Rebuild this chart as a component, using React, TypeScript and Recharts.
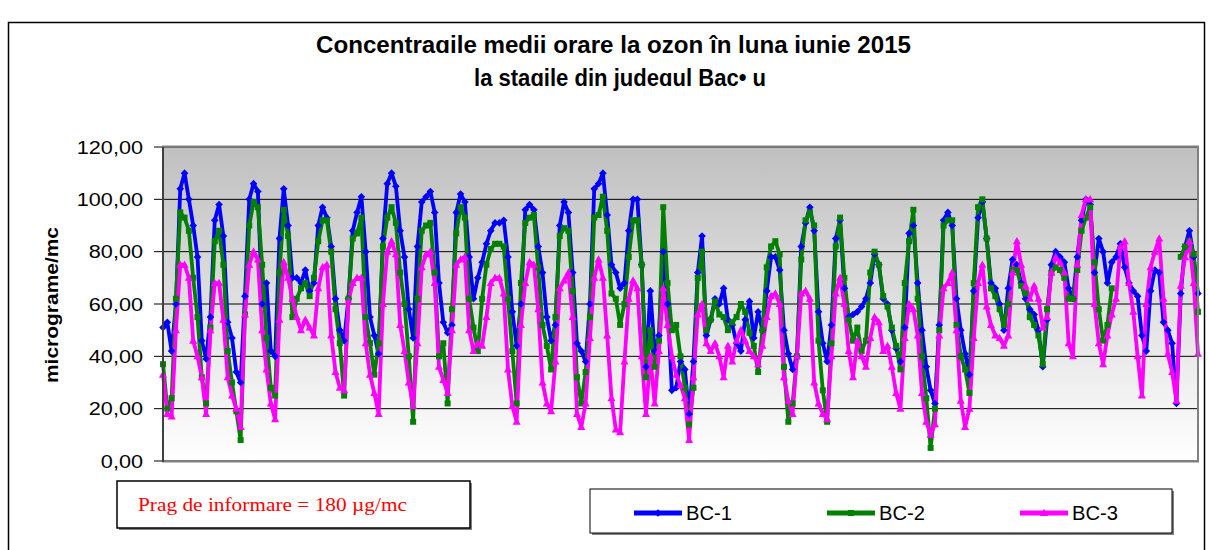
import { LineChart, Line, XAxis, YAxis, CartesianGrid } from 'recharts';

// hourly ozone, sampled every 3 hours (June 2015)
const STEP_HOURS = 3;

const BC1 = [
  51, 53, 42, 60, 104, 110, 100, 90, 78, 46, 39, 55, 92, 98, 86, 53, 47, 34, 30, 63,
  100, 106, 103, 60, 68, 42, 40, 85, 104, 90, 70, 70, 68, 73, 65, 68, 90, 97, 93, 82,
  62, 50, 46, 62, 88, 95, 101, 80, 55, 48, 41, 85, 106, 110, 105, 88, 78, 58, 47, 82,
  99, 101, 103, 95, 68, 53, 49, 52, 95, 102, 99, 78, 62, 70, 76, 83, 88, 91, 91, 92,
  78, 57, 44, 60, 96, 98, 96, 82, 72, 55, 46, 52, 90, 99, 95, 72, 45, 42, 38, 60,
  104, 106, 110, 94, 75, 72, 66, 68, 88, 100, 100, 75, 36, 65, 42, 48, 80, 60, 27, 28,
  38, 35, 18, 38, 72, 86, 48, 54, 62, 60, 66, 54, 52, 45, 42, 54, 61, 47, 57, 50,
  65, 78, 78, 73, 50, 41, 35, 40, 82, 91, 97, 88, 57, 45, 38, 52, 85, 92, 66, 55,
  56, 57, 59, 62, 68, 79, 75, 62, 60, 50, 43, 38, 51, 87, 90, 68, 50, 36, 27, 22,
  52, 92, 95, 90, 62, 50, 41, 33, 65, 93, 99, 85, 68, 66, 60, 50, 66, 77, 75, 68,
  62, 58, 56, 50, 36, 54, 75, 80, 78, 76, 66, 62, 78, 92, 100, 98, 72, 85, 80, 68,
  76, 78, 83, 74, 68, 65, 63, 48, 42, 65, 73, 72, 53, 50, 45, 22, 64, 82, 88, 78,
  64,
];

const BC2: (number | null)[] = [
  37, 20, 24, 62, 95, 93, 88, 70, 55, 32, 22, 51, 84, 88, 75, 42, 30, 19, 8, 56,
  90, 99, 97, 75, 47, 28, 25, 72, 96, 86, 55, 62, 66, 68, 63, 70, 84, 92, 92, 80,
  58, 45, 25, 62, 85, 87, 93, 55, 45, 33, 45, 82, 93, 97, 91, 72, 60, 40, 15, 62,
  88, 90, 91, 72, 40, 45, 22, 58, 87, 97, 93, 62, 51, 42, 62, 75, 81, 83, 83, 82,
  62, 42, 22, 68, 91, 93, 94, 74, 52, 44, 35, 55, 86, 89, 88, 65, 32, 22, 34, 55,
  93, 94, 101, 88, 64, 62, 52, 60, 78, 92, 92, 75, 32, 50, 36, 46, 97, 68, 50, 52,
  40, 28, 14, 28, 70, 80, 50, 54, 61, 56, 55, 50, 53, 55, 60, 57, 49, 44, 34, 50,
  74, 82, 84, 79, 36, 15, 22, 40, 77, 92, 95, 90, 46, 27, 15, 45, 82, 93, 70, 54,
  46, 51, 42, 46, 72, 80, 75, 63, 59, 51, 44, 35, 68, 84, 96, 62, 40, 24, 5, 20,
  50, 90, 92, 92, 52, 40, 35, 26, 68, 97, 100, 85, 66, 63, 58, 52, 60, 73, 73, 67,
  64, 55, 52, 48, 37, 58, 72, 74, 73, 70, 62, 62, 73, 88, 93, 97, 76, 58, 46, 52,
  66, null, null, null, null, null, null, null, null, null, null, null, null, null, null, null, 78, 82, 84, 79,
  57,
];

const BC3 = [
  33, 18, 17, 50, 75, 75, 70, 46, 40, 32, 18, 50, 68, 68, 54, 32, 25, 20, 13, 56,
  75, 80, 77, 50, 35, 22, 16, 54, 76, 70, 62, 55, 50, 54, 51, 48, 66, 74, 75, 48,
  34, 28, 27, 61, 68, 70, 70, 45, 33, 26, 18, 60, 80, 84, 79, 52, 42, 30, 21, 45,
  74, 79, 80, 68, 36, 31, 26, 50, 75, 77, 78, 50, 42, 45, 44, 55, 68, 70, 70, 64,
  35, 21, 15, 52, 68, 76, 75, 58, 30, 22, 19, 38, 66, 69, 72, 55, 18, 13, 22, 47,
  70, 77, 70, 48, 24, 12, 11, 38, 62, 69, 66, 40, 18, 40, 22, 42, 66, 52, 40, 33,
  29, 24, 8, 32, 56, 60, 45, 42, 45, 40, 32, 44, 38, 46, 50, 46, 42, 40, 37, 44,
  55, 63, 64, 60, 32, 23, 18, 40, 64, 65, 62, 30, 22, 18, 16, 40, 64, 70, 60, 42,
  32, 46, 40, 36, 47, 55, 53, 42, 44, 36, 26, 20, 47, 60, 58, 48, 26, 15, 10, 14,
  48, 66, 68, 72, 50, 23, 13, 20, 47, 68, 75, 59, 52, 48, 47, 44, 48, 72, 84, 75,
  67, 62, 67, 62, 51, 55, 72, 78, 76, 72, 45, 40, 75, 94, 100, 100, 60, 45, 37, 48,
  56, 62, 82, 84, 68, 57, 40, 25, 60, 74, 80, 85, 62, 41, 34, 23, 67, 78, 84, 68,
  41,
];

const Y_TICKS = [0, 20, 40, 60, 80, 100, 120];
const TITLE_1 = 'Concentraɑile medii orare la ozon în luna iunie 2015';
const TITLE_2 = 'la staɑile din judeɑul Bac• u';
const Y_LABEL = 'micrograme/mc';
const NOTE = 'Prag de informare = 180 µg/mc';

const SERIES = [
  { key: 'bc1', name: 'BC-1', color: '#0000ff', shape: 'diamond' },
  { key: 'bc2', name: 'BC-2', color: '#008000', shape: 'square' },
  { key: 'bc3', name: 'BC-3', color: '#ff00ff', shape: 'triangle' },
];

const data = BC1.map((v, i) => ({ h: i * STEP_HOURS, bc1: v, bc2: BC2[i], bc3: BC3[i] }));

const SANS = '"Liberation Sans", Arial, sans-serif';

function markerPath(shape: string, x: number, y: number) {
  if (shape === 'diamond') return `M${x},${y - 3.8}L${x + 3.8},${y}L${x},${y + 3.8}L${x - 3.8},${y}Z`;
  if (shape === 'square') return `M${x - 3},${y - 3}h6v6h-6Z`;
  return `M${x},${y - 4.3}L${x + 4},${y + 3}L${x - 4},${y + 3}Z`;
}

const makeDot = (shape: string, color: string) => (p: any) => {
  const { cx, cy, index, value } = p;
  const k = `${shape}-${index}`;
  if (value == null || !Number.isFinite(cx) || !Number.isFinite(cy)) return <g key={k} />;
  return <path key={k} d={markerPath(shape, cx, cy)} fill={color} stroke="none" />;
};

const YTick = ({ x, y, payload }: any) => (
  <text
    transform={`translate(${x},${y}) scale(1.14,1)`}
    textAnchor="end"
    dominantBaseline="central"
    fontSize={19}
    fontFamily={SANS}
    fill="#000"
  >
    {Number(payload.value).toFixed(2).replace('.', ',')}
  </text>
);

const legendX = [634, 827, 1020];

export default function App() {
  return (
    <div style={{ position: 'absolute', left: 0, top: 0, width: 1209, height: 550, background: '#fff' }}>
      {/* plot background */}
      <div
        style={{
          position: 'absolute',
          left: 163,
          top: 147,
          width: 1035,
          height: 314,
          background: 'linear-gradient(#c0c0c0, #ffffff)',
        }}
      />
      <div style={{ position: 'absolute', left: 0, top: 0 }}>
        <LineChart width={1209} height={550} data={data} margin={{ top: 147, right: 11, bottom: 89, left: 0 }}>
          <CartesianGrid vertical={false} stroke="#000" strokeWidth={1} />
          <XAxis dataKey="h" type="number" domain={[0, 720]} hide height={0} />
          <YAxis
            domain={[0, 120]}
            ticks={Y_TICKS}
            width={163}
            tickSize={9}
            tickMargin={11}
            tick={<YTick />}
            axisLine={{ stroke: '#404040', strokeWidth: 2 }}
            tickLine={{ stroke: '#000' }}
          />
          {SERIES.map((s) => (
            <Line
              key={s.key}
              dataKey={s.key}
              stroke={s.color}
              strokeWidth={3.8}
              strokeLinejoin="round"
              dot={makeDot(s.shape, s.color)}
              activeDot={false}
              connectNulls={false}
              isAnimationActive={false}
            />
          ))}
        </LineChart>
      </div>
      <svg width={1209} height={550} style={{ position: 'absolute', left: 0, top: 0, pointerEvents: 'none' }}>
        {/* chart frame */}
        <rect x={8.5} y={22.5} width={1196} height={540} fill="none" stroke="#000" strokeWidth={1.5} />
        {/* plot frame */}
        <rect x={163} y={146.5} width={1035} height={315} fill="none" stroke="#808080" strokeWidth={2} />
        <line x1={163} y1={147} x2={163} y2={462} stroke="#404040" strokeWidth={2} />

        <text x={613.5} y={53} textAnchor="middle" fontSize={23} fontWeight="bold" fontFamily={SANS}
          textLength={595} lengthAdjust="spacingAndGlyphs">{TITLE_1}</text>
        <text x={620} y={86} textAnchor="middle" fontSize={23} fontWeight="bold" fontFamily={SANS}
          textLength={292} lengthAdjust="spacingAndGlyphs">{TITLE_2}</text>

        <text transform="translate(58,305) rotate(-90)" textAnchor="middle" fontSize={19} fontWeight="bold"
          fontFamily={SANS} textLength={156} lengthAdjust="spacingAndGlyphs">{Y_LABEL}</text>

        {/* information threshold note */}
        <rect x={119} y={483} width={353} height={47} fill="#808080" />
        <rect x={117} y={481} width={353} height={47} fill="#fff" stroke="#000" strokeWidth={1.5} />
        <text x={138} y={511} fontSize={19} fill="#ff0000" fontFamily='"Liberation Serif", "Times New Roman", serif'
          textLength={269} lengthAdjust="spacingAndGlyphs">{NOTE}</text>

        {/* legend */}
        <rect x={592} y={491} width={582} height={44} fill="#808080" />
        <rect x={590} y={489} width={582} height={44} fill="#fff" stroke="#000" strokeWidth={1} />
        {SERIES.map((s, i) => (
          <g key={s.key}>
            <line x1={legendX[i]} y1={513} x2={legendX[i] + 48} y2={513} stroke={s.color} strokeWidth={5} />
            <path d={markerPath(s.shape, legendX[i] + 24, 513)} fill={s.color} />
            <text x={legendX[i] + 52} y={513} dominantBaseline="central" fontSize={20} fontFamily={SANS}
              textLength={46} lengthAdjust="spacingAndGlyphs">{s.name}</text>
          </g>
        ))}
      </svg>
    </div>
  );
}
